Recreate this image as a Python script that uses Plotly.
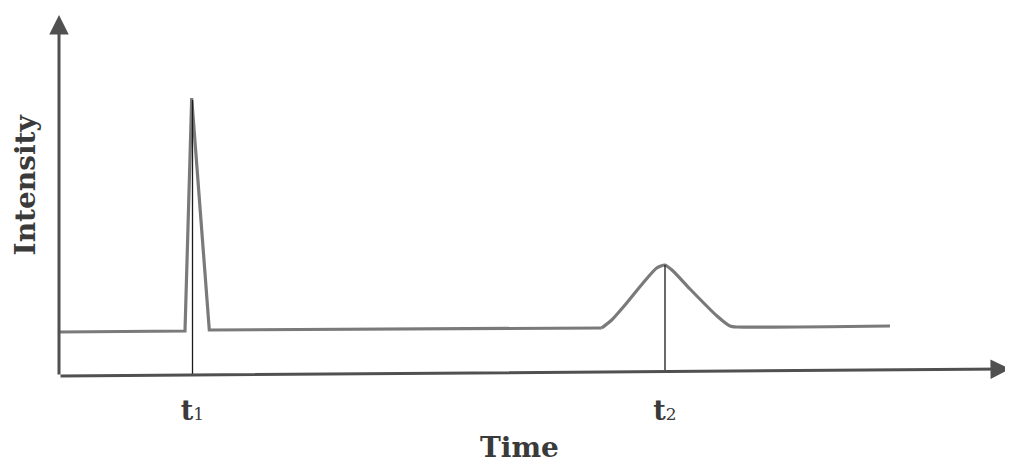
import plotly.graph_objects as go

# Signal trace (time in arbitrary units, intensity in arbitrary units)
time_vals = [0.0, 12.5, 12.6, 13.27, 15.03, 54.27, 55.27, 56.77, 58.4, 59.77, 60.6,
             61.4, 63.1, 65.8, 67.1, 67.8, 83.1]
intensity_vals = [4.4, 4.5, 4.5, 27.8, 4.6, 4.8, 5.6, 7.3, 9.3, 10.8, 11.1,
                  10.5, 8.7, 6.0, 5.0, 4.9, 5.0]
split_index = 5  # sharp spike before, smooth peak after

# Marker lines at peak times
peak_times = [13.35, 60.6]
peak_heights = [27.6, 11.1]
peak_bases = [0.05, 0.4]
tick_labels = ["<b>t</b><span style='font-size:17px'>1</span>",
               "<b>t</b><span style='font-size:17px'>2</span>"]
x_title = "Time"
y_title = "Intensity"

x_max = 95.1
y_max = 36.1
axis_end_y = 0.7

fig = go.Figure()

line_style = dict(color="#7a7a7a", width=3.2)
fig.add_trace(go.Scatter(x=time_vals[:split_index + 1], y=intensity_vals[:split_index + 1],
                         mode="lines", line=line_style, hoverinfo="skip", showlegend=False))
fig.add_trace(go.Scatter(x=time_vals[split_index:], y=intensity_vals[split_index:],
                         mode="lines", line=dict(shape="spline", smoothing=0.6, **line_style),
                         hoverinfo="skip", showlegend=False))

for t, h, b in zip(peak_times, peak_heights, peak_bases):
    fig.add_trace(go.Scatter(x=[t, t], y=[b, h], mode="lines",
                             line=dict(color="#1a1a1a", width=1.3),
                             hoverinfo="skip", showlegend=False))

axis_color = "#505050"
# y axis arrow
fig.add_annotation(x=0, y=y_max, ax=0, ay=0, xref="x", yref="y", axref="x", ayref="y",
                   text="", showarrow=True, arrowhead=2, arrowsize=1.3, arrowwidth=3,
                   arrowcolor=axis_color)
# x axis arrow
fig.add_annotation(x=x_max, y=axis_end_y, ax=0, ay=0, xref="x", yref="y", axref="x", ayref="y",
                   text="", showarrow=True, arrowhead=2, arrowsize=1.3, arrowwidth=3,
                   arrowcolor=axis_color)

font_family = "DejaVu Serif"
text_color = "#3a3a3a"

# axis titles
fig.add_annotation(x=0.484, y=-0.197, xref="paper", yref="paper", showarrow=False,
                   text=f"<b>{x_title}</b>", xanchor="center", yanchor="middle",
                   font=dict(family=font_family, size=28, color=text_color))
fig.add_annotation(x=-0.035, y=0.53, xref="paper", yref="paper", showarrow=False,
                   text=f"<b>{y_title}</b>", textangle=-90, xanchor="center", yanchor="middle",
                   font=dict(family=font_family, size=28, color=text_color))

# page body has an 8px default margin; size figure to compensate
fig.update_layout(
    width=1005, height=458,
    margin=dict(l=51, r=3, t=7, b=90),
    paper_bgcolor="white", plot_bgcolor="white",
    xaxis=dict(range=[0, x_max], showgrid=False, zeroline=False, showline=False,
               tickmode="array", tickvals=peak_times, ticktext=tick_labels,
               ticks="", ticklabelstandoff=16,
               tickfont=dict(family=font_family, size=27, color=text_color),
               automargin=False),
    yaxis=dict(range=[0, y_max], showgrid=False, zeroline=False, showline=False,
               showticklabels=False, ticks="", automargin=False),
)

fig.write_html("out.html")
